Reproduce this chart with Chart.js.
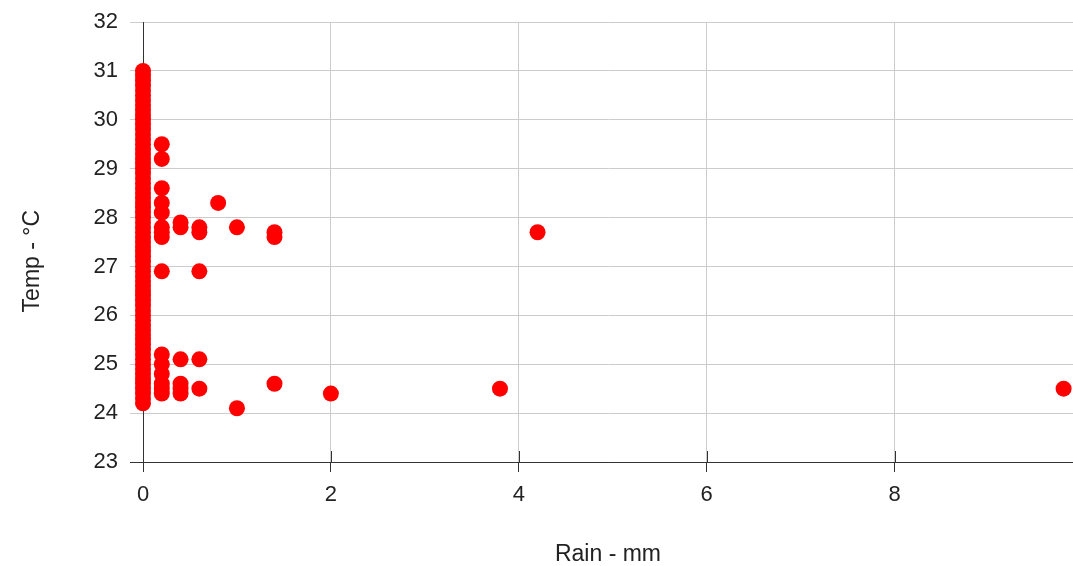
<!DOCTYPE html>
<html>
<head>
<meta charset="utf-8">
<script src="https://cdn.jsdelivr.net/npm/chart.js@4.4.1/dist/chart.umd.min.js"></script>
<style>
html,body{margin:0;padding:0;background:#fff;}
#c{display:block;}
</style>
</head>
<body>
<canvas id="c" width="1073" height="566"></canvas>
<script>
// Temperatures recorded with zero rain
const zeroRainTemps = [24.2,24.3,24.4,24.5,24.6,24.7,24.8,24.9,25.0,25.1,25.2,25.3,25.4,25.5,25.6,25.7,25.8,25.9,26.0,26.1,26.2,26.3,26.4,26.5,26.6,26.7,26.8,26.9,27.0,27.1,27.2,27.3,27.4,27.5,27.6,27.7,27.8,27.9,28.0,28.1,28.2,28.3,28.4,28.5,28.6,28.7,28.8,28.9,29.0,29.1,29.2,29.3,29.4,29.5,29.6,29.7,29.8,29.9,30.0,30.1,30.2,30.3,30.4,30.5,30.6,30.7,30.8,30.9,31.0];
// Readings with rain
const rainMm = [0.2,0.2,0.2,0.2,0.2,0.2,0.2,0.2,0.2,0.2,0.2,0.2,0.2,0.2,0.2,
                0.4,0.4,0.4,0.4,0.4,0.4,
                0.6,0.6,0.6,0.6,0.6,
                0.8,
                1.0,1.0,
                1.4,1.4,1.4,
                2.0,
                3.8,
                4.2,
                9.8];
const rainTemps = [29.5,29.2,28.6,28.3,28.1,27.8,27.7,27.6,26.9,25.2,25.0,24.8,24.6,24.5,24.4,
                   27.9,27.8,25.1,24.6,24.5,24.4,
                   27.8,27.7,26.9,25.1,24.5,
                   28.3,
                   27.8,24.1,
                   27.7,27.6,24.6,
                   24.4,
                   24.5,
                   27.7,
                   24.5];
const xTicks = [0,2,4,6,8];
const yTicks = [23,24,25,26,27,28,29,30,31,32];

const points = zeroRainTemps.map(t => ({x: 0, y: t}))
  .concat(rainMm.map((r, i) => ({x: r, y: rainTemps[i]})));

const FONT = "'Liberation Sans', Arial, sans-serif";
const DARK = '#333333';
const GRID = '#cccccc';
const NB = '\u00a0';

const tickMarksAbove = {
  id: 'tickMarksAbove',
  beforeDatasetsDraw(chart) {
    const {ctx, chartArea, scales} = chart;
    ctx.save();
    ctx.strokeStyle = DARK;
    ctx.lineWidth = 1;
    xTicks.forEach(v => {
      if (v === 0) return;
      const px = Math.round(scales.x.getPixelForValue(v)) + 0.5;
      ctx.beginPath();
      ctx.moveTo(px, chartArea.bottom - 11);
      ctx.lineTo(px, chartArea.bottom);
      ctx.stroke();
    });
    ctx.restore();
  }
};

new Chart(document.getElementById('c'), {
  type: 'scatter',
  data: {
    datasets: [{
      data: points,
      backgroundColor: '#ff0000',
      borderColor: '#ff0000',
      borderWidth: 0,
      pointRadius: 8,
      pointHoverRadius: 8,
      clip: false
    }]
  },
  options: {
    responsive: false,
    animation: false,
    devicePixelRatio: 1,
    layout: {autoPadding: false, padding: {top: 22, right: 0, bottom: 0, left: 0}},
    plugins: {legend: {display: false}, tooltip: {enabled: false}},
    scales: {
      x: {
        type: 'linear',
        min: 0,
        max: 9.9,
        afterBuildTicks: s => { s.ticks = xTicks.map(v => ({value: v})); },
        afterFit: s => { s.height = 104; s.paddingLeft = 0; s.paddingRight = 0; },
        grid: {
          color: c => (c.tick && c.tick.value === 0) ? DARK : GRID,
          tickColor: DARK,
          tickLength: 10,
          lineWidth: 1
        },
        border: {color: DARK, width: 1},
        ticks: {font: {family: FONT, size: 22}, color: '#222', padding: 10, maxRotation: 0},
        title: {display: true, text: 'Rain - mm', color: '#222',
                font: {family: FONT, size: 23, lineHeight: 1}, padding: {top: 0, bottom: 0}}
      },
      y: {
        type: 'linear',
        min: 23,
        max: 32,
        afterBuildTicks: s => { s.ticks = yTicks.map(v => ({value: v})); },
        afterFit: s => { s.width = 143; s.paddingTop = 0; s.paddingBottom = 0; },
        grid: {
          color: c => (c.tick && c.tick.value === 23) ? DARK : GRID,
          tickColor: c => (c.tick && c.tick.value === 23) ? DARK : GRID,
          tickLength: 13,
          lineWidth: 1
        },
        border: {color: DARK, width: 1},
        ticks: {font: {family: FONT, size: 22}, color: '#222', padding: 12},
        title: {display: true, text: 'Temp - °C' + NB.repeat(6), color: '#222',
                font: {family: FONT, size: 23, lineHeight: 1}, padding: {top: 21, bottom: 0}}
      }
    }
  },
  plugins: [tickMarksAbove]
});
</script>
</body>
</html>
